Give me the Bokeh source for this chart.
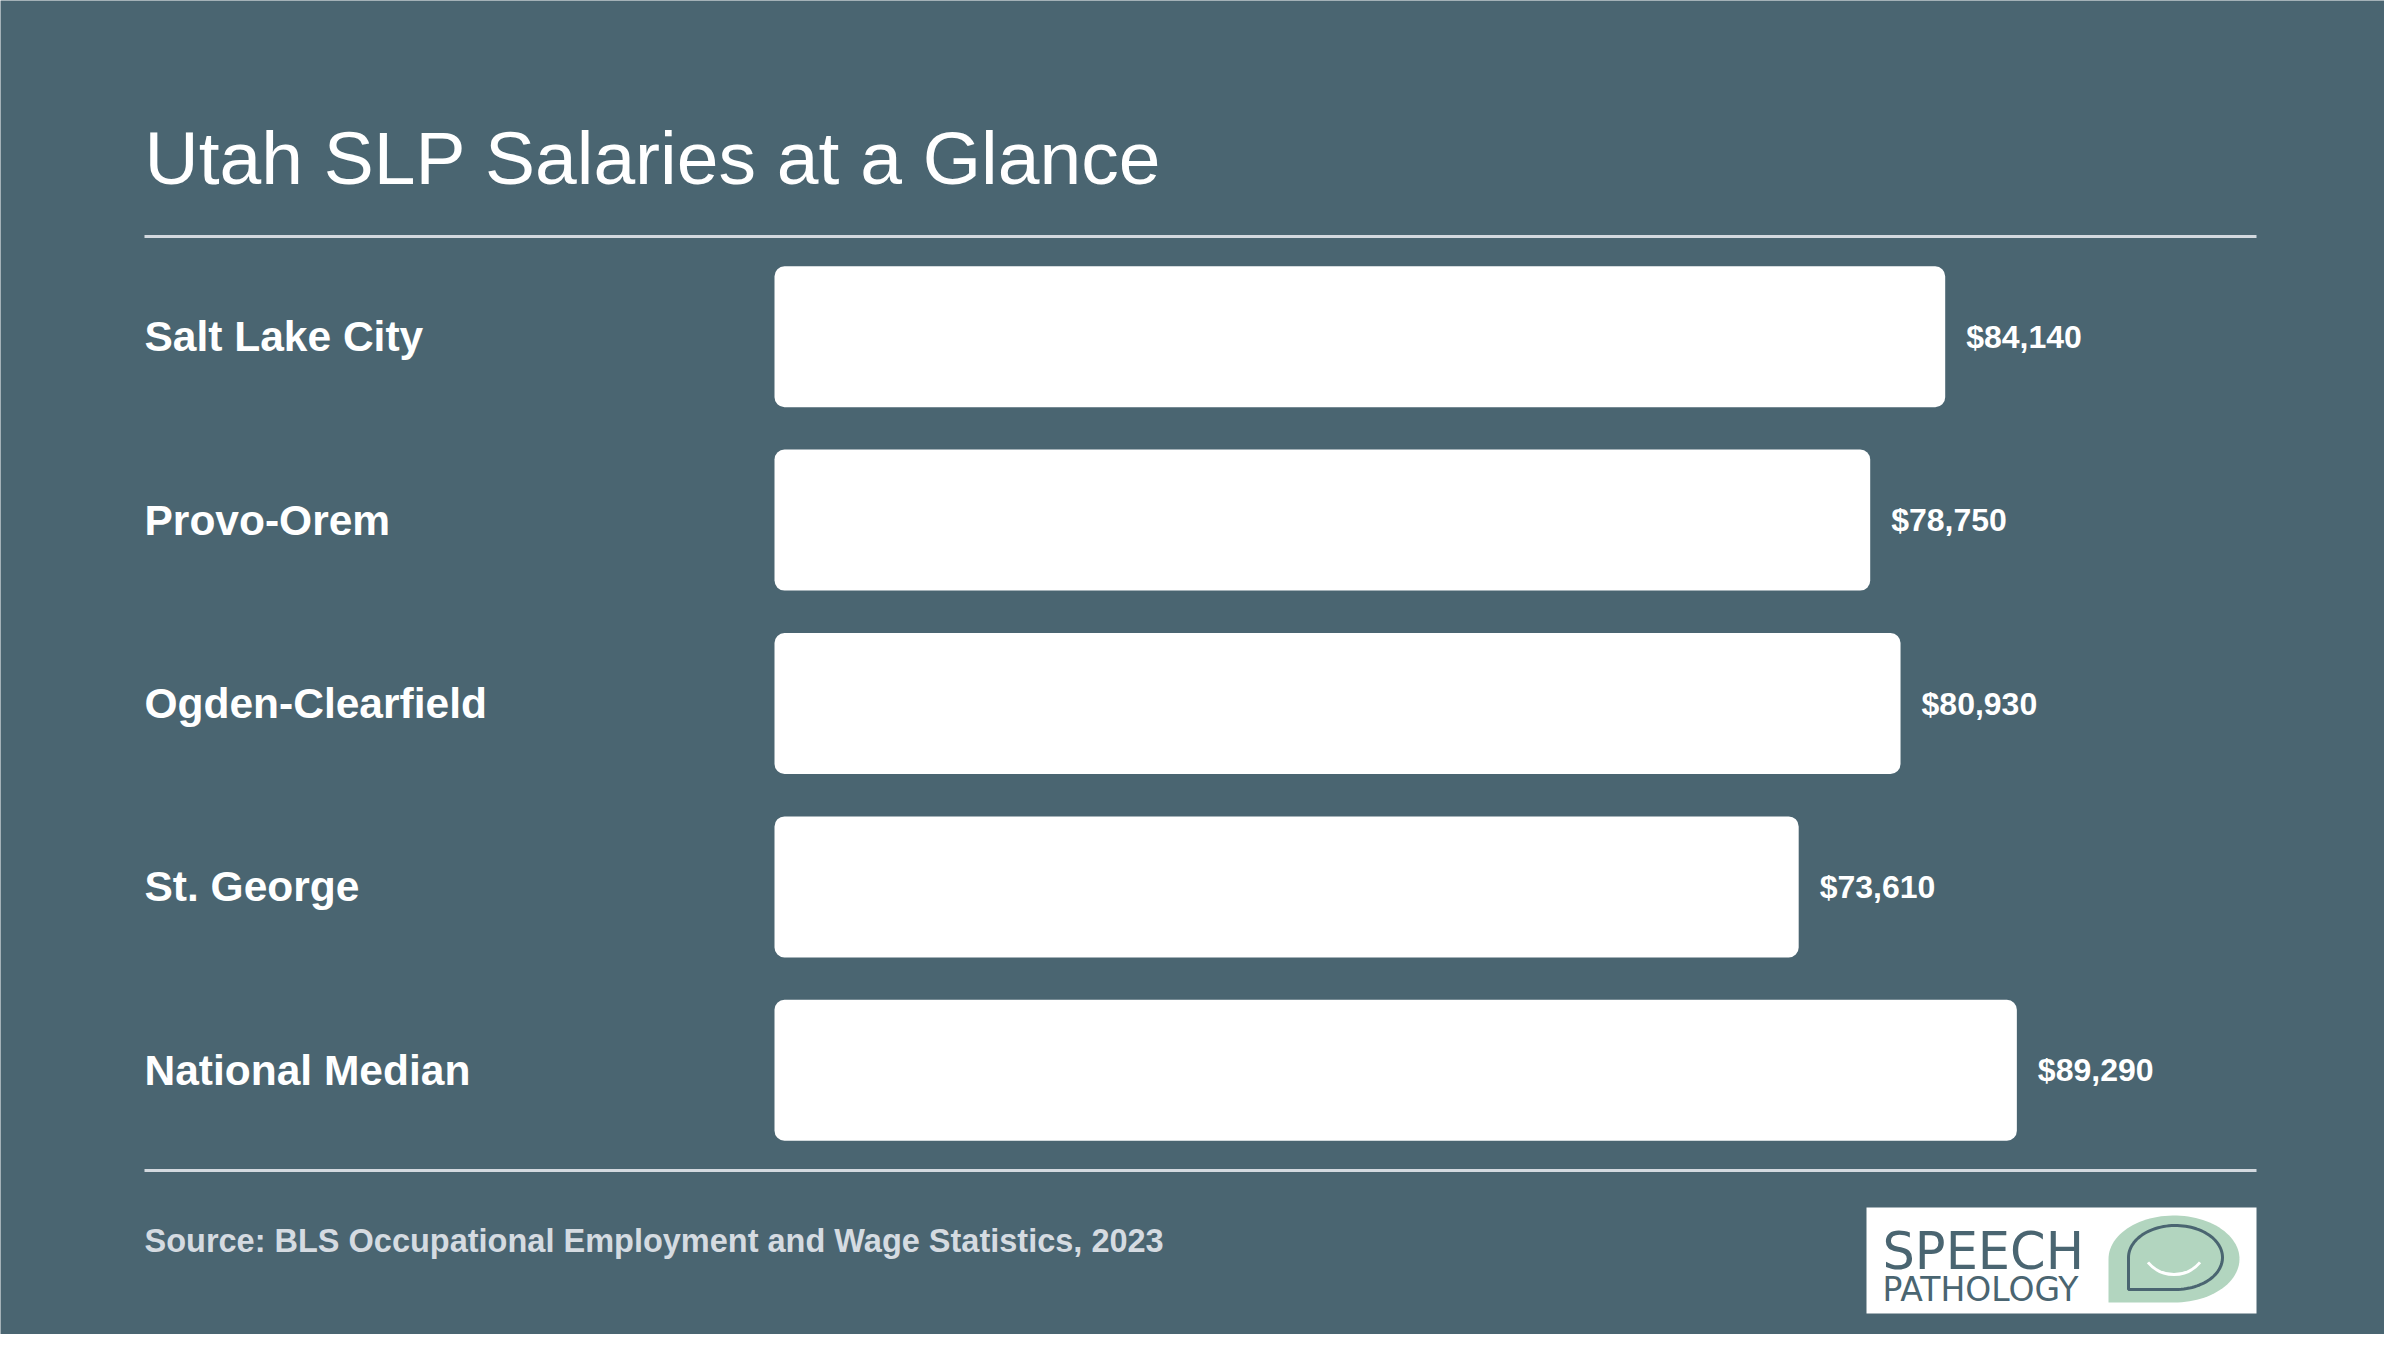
import numpy as np
from bokeh.plotting import figure
from bokeh.models import Range1d, ColumnDataSource
from bokeh.core.properties import value
from bokeh.embed import file_html
from bokeh.resources import INLINE

# ---- data ----
categories = ["Salt Lake City", "Provo-Orem", "Ogden-Clearfield", "St. George", "National Median"]
salaries = [84140, 78750, 80930, 73610, 89290]
salary_labels = ["$84,140", "$78,750", "$80,930", "$73,610", "$89,290"]
title_text = "Utah SLP Salaries at a Glance"
source_text = "Source: BLS Occupational Employment and Wage Statistics, 2023"

BG = "#4a6571"
W, H = 2384, 1334

# x: dollars, 0 at px 774, 0.0139137 px per dollar
px_per_dollar = 1170.7 / 84140.0
x0_canvas = 774
x_start = -x0_canvas / px_per_dollar
x_end = (W - x0_canvas) / px_per_dollar
# y: category index, center of first at px 336.2, pitch 183.4
pitch = 183.4
y_top = (0 - 336.2) / pitch
y_bot = (H - 336.2) / pitch

p = figure(width=W, height=H, output_backend="svg", toolbar_location=None,
           x_range=Range1d(x_start, x_end), y_range=Range1d(y_bot, y_top),
           min_border=0, background_fill_color=BG, border_fill_color=BG,
           outline_line_color=None)
p.xaxis.visible = False
p.yaxis.visible = False
p.grid.visible = False

# pixel-unit ranges for decorations
p.extra_x_ranges = {"px": Range1d(0, W)}
p.extra_y_ranges = {"py": Range1d(H, 0)}

idx = list(range(len(categories)))
src = ColumnDataSource(dict(y=idx, v=salaries, cat=categories, lab=salary_labels,
                            zero=[0] * len(idx)))

p.hbar(y="y", left="zero", right="v", height=141 / pitch, source=src,
       fill_color="white", line_color=None, border_radius=10)

p.text(x="zero", y="y", text="cat", source=src, x_offset=-(774 - 144),
       text_font=value("Liberation Sans"), text_font_style="bold",
       text_font_size="42.5px", text_color="white",
       text_align="left", text_baseline="middle")

p.text(x="v", y="y", text="lab", source=src, x_offset=21,
       text_font=value("Liberation Sans"), text_font_style="bold",
       text_font_size="32px", text_color="white",
       text_align="left", text_baseline="middle")

# title
p.text(x=[144], y=[157], text=[title_text], x_range_name="px", y_range_name="py",
       text_font=value("Liberation Sans"), text_font_size="75px",
       text_color="white", text_align="left", text_baseline="middle")

# rules
p.segment(x0=[144, 144], y0=[236, 1170], x1=[2256, 2256], y1=[236, 1170],
          x_range_name="px", y_range_name="py", line_color="#d3d9df", line_width=3)

# source
p.text(x=[144], y=[1240], text=[source_text], x_range_name="px", y_range_name="py",
       text_font=value("Liberation Sans"), text_font_style="bold",
       text_font_size="32.5px", text_color="#d5dbe1", text_align="left",
       text_baseline="middle")

# logo
p.quad(left=[1866], right=[2256], top=[1207], bottom=[1313],
       x_range_name="px", y_range_name="py", fill_color="white", line_color=None)


def bubble(l, r, t, b):
    cx = (l + r) / 2
    cy = (t + b) / 2
    rx = (r - l) / 2
    ry = (b - t) / 2
    tt = np.linspace(np.pi, -np.pi / 2, 80)
    xs = list(cx + rx * np.cos(tt)) + [l]
    ys = list(cy - ry * np.sin(tt)) + [b]
    return xs, ys


gx, gy = bubble(2108, 2239, 1215, 1302)
p.patch(gx, gy, x_range_name="px", y_range_name="py", fill_color="#b2d5bf",
        line_color=None)
ix, iy = bubble(2128, 2222, 1225, 1289)
p.line(ix + [ix[0]], iy + [iy[0]], x_range_name="px", y_range_name="py",
       line_color="#4a6571", line_width=3)
p.arc(x=[2173.5], y=[1240], radius=34, start_angle=np.radians(220),
      end_angle=np.radians(320), direction="anticlock",
      x_range_name="px", y_range_name="py", line_color="white", line_width=3)

p.text(x=[1882], y=[1251], text=["SPEECH"], x_range_name="px", y_range_name="py",
       text_font=value("DejaVu Sans"), text_font_size="51px", text_color="#4a6571",
       text_align="left", text_baseline="middle")
p.text(x=[1882], y=[1289], text=["PATHOLOGY"], x_range_name="px", y_range_name="py",
       text_font=value("DejaVu Sans"), text_font_size="33px", text_color="#4a6571",
       text_align="left", text_baseline="middle")

open("out.html", "w").write(file_html(p, INLINE))
